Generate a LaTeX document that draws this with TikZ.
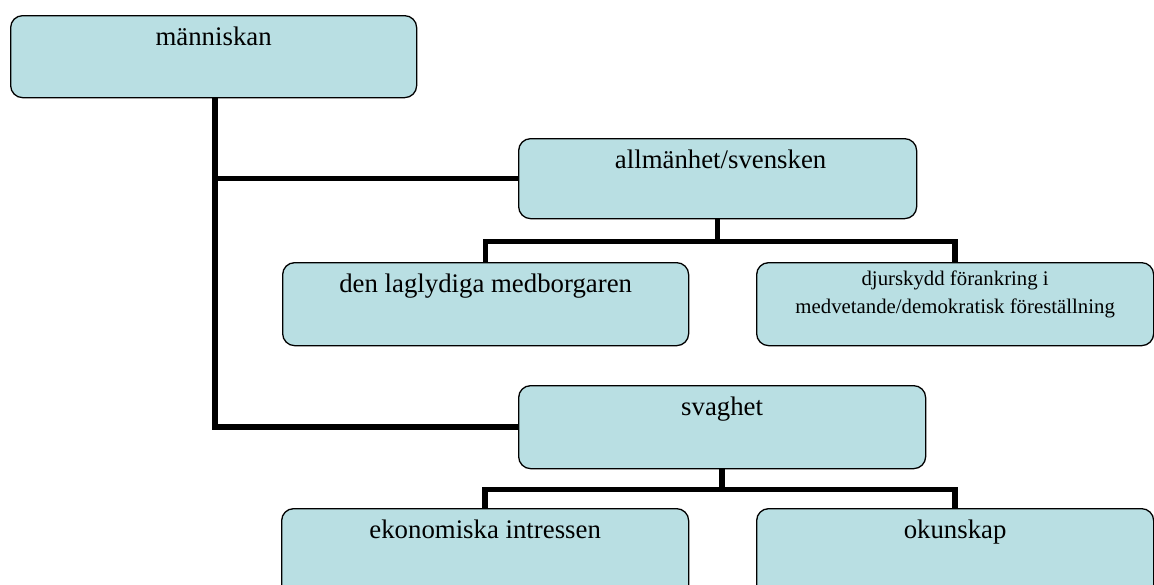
\documentclass[tikz,border=0pt]{standalone}
\usepackage{fontspec}
\setmainfont{Liberation Serif}
\usetikzlibrary{backgrounds}
\definecolor{boxfill}{RGB}{185,223,227}
\tikzset{
  box/.style={draw=black, line width=1.3pt, fill=boxfill, rounded corners=12pt, inner sep=0pt, anchor=north west},
  conn/.style={draw=black, line width=5.5pt},
  lbl/.style={anchor=base, inner sep=0pt, font=\fontsize{26.8}{30}\selectfont},
  slbl/.style={anchor=base, inner sep=0pt, font=\fontsize{20.8}{28}\selectfont}
}
\begin{document}
\begin{tikzpicture}[x=1pt,y=-1pt]
\useasboundingbox (0,0) rectangle (1154,584);
\clip (0,0) rectangle (1154,584);
% boxes
\node[box, minimum width=406pt, minimum height=82pt] (mann) at (10,15) {};
\node[box, minimum width=398pt, minimum height=80pt] (allm) at (518,138) {};
\node[box, minimum width=406pt, minimum height=83pt] (lag) at (282,262) {};
\node[box, minimum width=397pt, minimum height=83pt] (djur) at (756,262) {};
\node[box, minimum width=407pt, minimum height=83pt] (svag) at (518,385) {};
\node[box, minimum width=407pt, minimum height=90pt] (ekon) at (281,508) {};
\node[box, minimum width=397pt, minimum height=90pt] (okun) at (756,508) {};
% labels
\node[lbl] (tmann) at ([yshift=-30pt]mann.north) {människan};
\node[lbl] (tallm) at ([xshift=3pt,yshift=-30pt]allm.north) {allmänhet/svensken};
\node[lbl] (tlag) at ([yshift=-30pt]lag.north) {den laglydiga medborgaren};
\node[slbl] (tdjur1) at ([yshift=-23pt]djur.north) {djurskydd förankring i};
\node[slbl] (tdjur2) at ([yshift=-51pt]djur.north) {medvetande/demokratisk föreställning};
\node[lbl] (tsvag) at ([yshift=-30pt]svag.north) {svaghet};
\node[lbl] (tekon) at ([yshift=-30pt]ekon.north) {ekonomiska intressen};
\node[lbl] (tokun) at ([yshift=-30pt]okun.north) {okunskap};
% connectors
\coordinate (trunk) at (215,0);
\begin{pgfonlayer}{background}
\draw[conn] (trunk |- mann.south) |- (svag.west);
\draw[conn] (trunk |- allm.west) -- (allm.west);
\draw[conn] (allm.south) -- ++(0,22) coordinate (ja);
\draw[conn] (lag.north) |- (ja) -| (djur.north);
\draw[conn] (svag.south) -- ++(0,20) coordinate (jb);
\draw[conn] (ekon.north) |- (jb) -| (okun.north);
\end{pgfonlayer}
\end{tikzpicture}
\end{document}
